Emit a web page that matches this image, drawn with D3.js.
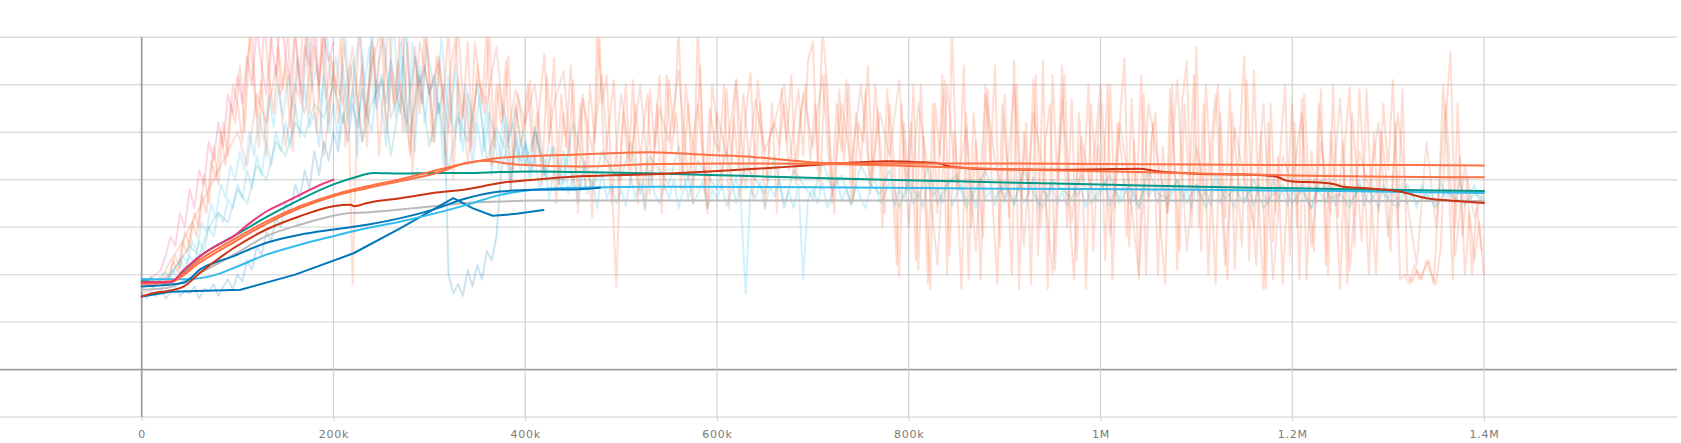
<!DOCTYPE html>
<html><head><meta charset="utf-8">
<script src="https://cdn.jsdelivr.net/npm/d3@7/dist/d3.min.js"></script>
<style>html,body{margin:0;padding:0;background:#fff;overflow:hidden}</style>
</head><body>
<svg id="chart" width="1681" height="443"></svg>
<script>
// ---------- axis / tick data ----------
const xTickValues = [0, 200000, 400000, 600000, 800000, 1000000, 1200000, 1400000];
const xTickLabels = ["0", "200k", "400k", "600k", "800k", "1M", "1.2M", "1.4M"];
const yGridValues = [-100, 0, 100, 200, 300, 400, 500, 600, 700];

// ---------- smoothed series (step in thousands, value) ----------
const magentaSteps = [0, 30, 44, 61, 78, 96, 113, 130, 148, 165, 183, 200];
const magentaVals  = [184, 184, 210, 239, 261, 281, 309, 333, 351, 368, 386, 400];

const tealSteps = [0, 30, 47, 61, 96, 130, 165, 200, 221, 242, 270, 304, 339, 374, 409, 457, 540, 592, 714, 819, 900, 1000, 1104, 1200, 1300, 1400];
const tealVals  = [186, 184, 214, 239, 281, 321, 358, 390, 404, 414, 413, 414, 414, 416, 417, 416, 413, 410, 403, 398, 394, 390, 385, 382, 379, 376];

const orangeASteps = [0, 30, 61, 96, 130, 165, 200, 235, 270, 304, 339, 356, 374, 409, 457, 530, 592, 637, 680, 714, 800, 900, 1000, 1100, 1200, 1300, 1400];
const orangeAVals  = [182, 186, 232, 274, 312, 344, 368, 386, 401, 418, 435, 441, 446, 450, 453, 458, 452, 448, 440, 435, 434, 434, 433, 432, 431, 431, 430];

const orangeBSteps = [0, 30, 61, 96, 130, 165, 200, 235, 270, 304, 339, 356, 391, 457, 540, 640, 714, 800, 900, 1000, 1100, 1200, 1300, 1400];
const orangeBVals  = [180, 184, 226, 268, 307, 340, 365, 382, 397, 412, 435, 440, 432, 428, 433, 434, 433, 429, 422, 418, 413, 409, 406, 405];

const redSteps = [0, 12, 26, 44, 61, 96, 130, 165, 200, 218, 222, 235, 270, 304, 339, 374, 409, 457, 540, 592, 673, 725, 777, 810, 832, 843, 888, 957, 1000, 1041, 1055, 1076, 1104, 1138, 1166, 1184, 1194, 1201, 1229, 1243, 1253, 1278, 1312, 1340, 1364, 1400];
const redVals  = [154, 161, 165, 175, 204, 256, 295, 323, 344, 347, 344, 351, 361, 372, 380, 393, 400, 407, 412, 417, 427, 434, 439, 437, 434, 428, 422, 421, 422, 423, 419, 415, 412, 411, 410, 406, 398, 396, 394, 391, 385, 382, 375, 361, 356, 351];

const greySteps = [0, 26, 61, 96, 130, 165, 200, 217, 235, 270, 304, 339, 374, 409, 457, 700, 1000, 1400];
const greyVals  = [168, 172, 204, 242, 281, 305, 324, 330, 331, 337, 344, 351, 354, 356, 356, 356, 356, 355];

const blueASteps = [0, 44, 61, 96, 130, 165, 200, 235, 270, 304, 339, 374, 409, 457, 478];
const blueAVals  = [175, 183, 211, 239, 267, 284, 295, 305, 319, 337, 361, 375, 379, 380, 383];

const cyanSteps = [0, 44, 78, 96, 130, 165, 200, 235, 270, 304, 339, 374, 409, 457, 540, 700, 900, 1100, 1250, 1400];
const cyanVals  = [191, 190, 200, 214, 242, 263, 281, 298, 312, 328, 347, 368, 379, 383, 385, 384, 381, 379, 376, 372];

const blueBSteps = [0, 30, 103, 160, 221, 270, 325, 345, 366, 391, 419];
const blueBVals  = [154, 164, 168, 200, 245, 298, 361, 340, 324, 328, 336];

// ---------- raw (unsmoothed) series, logged every rawStep thousand steps ----------
const rawStep5 = 5;
const rawStep10 = 10;

const orangeARawVals = [
185,178,192,181,188,195,
205,240,215,290,260,330,300,410,350,470,390,520,450,600,
560,480,650,720,530,610,450,690,760,580,640,510,700,620,780,540,680,600,740,520,
650,520,700,610,180,560,640,470,690,580,720,500,630,560,740,600,450,680,540,710,
620,480,660,560,730,400,610,530,690,470,640,560,720,430,600,520,650,380,560,470,
520,610,430,560,665,480,655,390,540,450,610,330,580,480,320,720,560,620,410,175,
480,600,390,560,450,340,590,470,620,380,610,500,720,420,560,350,720,470,330,600,
520,380,590,440,610,360,540,625,400,560,340,490,520,470,560,420,510,590,450,650,
690,420,720,600,380,560,460,610,350,540,430,590,370,600,480,330,560,420,195,520,
380,600,210,490,180,560,330,620,200,720,410,170,540,300,480,190,600,430,640,260,
580,320,650,170,500,370,610,240,650,170,620,400,640,300,570,230,470,170,560,420,
560,230,600,340,520,655,260,480,190,580,360,520,200,470,330,600,210,560,650,300,
680,250,600,420,180,540,320,590,210,480,660,230,630,350,170,520,270,450,180,380,
560,300,570,190,460,350,590,220,500,380,170,480,595,260,590,410,200,500,330,560,
420,610,300,590,200,185,210,190,230,200,180,260,520,670,300,450,200,330,230,310,
200];

// second orange run, logged half-way between the first one's points
const orangeBRawVals = [
180,190,176,186,193,184,
230,205,270,245,310,280,370,330,440,400,500,430,560,520,
640,500,700,590,470,740,620,540,680,590,720,460,650,560,760,610,500,700,570,660,
580,700,470,640,560,720,520,610,680,450,600,740,560,650,500,690,410,620,560,720,
480,660,590,430,640,700,520,580,460,690,610,540,720,470,600,530,660,420,580,500,
600,460,540,390,620,500,350,580,470,640,420,560,380,600,480,700,430,520,610,360,
540,420,610,350,500,580,400,560,330,620,460,540,380,600,500,440,640,370,550,480,
460,600,340,530,420,580,470,360,610,500,400,560,330,590,480,620,390,540,600,440,
560,380,620,470,330,590,440,600,360,520,480,640,400,550,300,590,420,220,560,380,
520,230,600,390,170,560,450,610,240,500,380,640,190,540,420,280,590,350,180,560,
440,200,600,360,520,180,620,300,480,560,210,450,620,330,190,540,400,600,250,470,
380,600,190,520,440,280,570,350,620,200,480,540,300,180,590,420,250,560,380,620,
300,560,200,480,600,350,190,540,420,260,610,380,220,500,170,560,330,460,600,240,
520,190,580,380,250,560,440,200,600,320,480,180,540,400,270,590,360,200,500,420,
250,520,190,200,180,220,190,210,230,180,350,600,420,190,560,280,400,200,350,250];

const redRawVals = [
160,170,190,230,260,300,340,380,420,460,
500,430,580,520,640,470,600,540,700,450,
620,560,680,480,640,720,530,600,460,690,
580,650,500,720,430,610,560,680,470,590,
520,600,410,560,630,380,570,460,620,350,
580,440,600,370,550,480,630,400,560,340,
540,450,610,380,570,460,520,600,410,580,
470,620,350,560,430,600,390,540,450,610,
300,560,420,220,600,380,510,250,580,440,
350,600,260,540,420,200,570,310,490,380,
600,280,520,390,200,560,440,330,610,250,
470,360,580,220,510,400,300,560,190,450,
390,540,260,480,330,570,210,460,380,520,
280,540,350,220,480,300,560,240,430,320,
380];

const cyanRawVals = [
190,186,195,182,198,205,192,215,232,210,
240,225,270,250,300,280,330,310,360,340,
390,360,420,380,450,410,480,430,500,460,
520,470,560,490,600,510,540,470,620,500,
560,480,640,520,590,450,660,540,500,610,
560,470,620,530,690,500,580,460,640,520,
600,480,560,430,620,500,540,460,580,430,
520,450,560,410,500,440,530,400,480,420,
470,400,450,380,440,360,420,390,460,370,
410,350,430,370,400,340,420,360,390,350,
380,345,410,360,395,335,420,370,350,390,
360,400,340,380,410,350,370,395,340,380,
360,390,345,375,405,350,160,380,360,395,
340,385,365,400,350,375,340,390,190,360,
380,350,395,340,370,405,355,380,345,390,
360,340,385,400,350,370,395,345,380,360,
390,350,375,340,400,365,380,350,395,345,
370,390,350,380,340,400,360,375,345,390,
360,380,345,395,350,370,405,340,380,360,
390,350,375,345,400,365,380,340,390,355,
370,395,345,380,360,400,350,375,340,390,
365,380,350,395,345,370,400,355,380,340,
390,360,375,345,400,350,380,365,340,395,
355,380,345,390,370,350,400,360,375,345,
385,350,395,360,340,380,370,350,395,345,
375,390,350,365,400,345,380,360,340,390,
360,380,345,395,350,370,340,390,360,375,
345,395,360,380,350,400,345,370,390,355,
360];

const blueARawVals = [
175,182,170,188,176,195,210,190,240,225,
270,250,310,290,350,320,390,360,430,400,
460,420,500,450,540,480,580,510,600,530,
620,550,660,570,700,590,640,560,720,600,
660,580,700,540,640,720,600,680,560,650,
700,600,740,580,660,520,690,610,560,680,
620,540,700,580,520,640,480,600,560,500,
580,460,540,500,420,560,480,520,440,500,
460,420,500,440,400,470,430,380,450,410,
420,380,440,400,390,410];

const tealRawVals = [
185,190,180,200,230,260,240,300,330,310,
380,350,430,400,480,450,520,490,560,530,
600,520,650,480,560,610,450,580,500,620,
470,560,420,530,480,600,440,510,460,550,
430,500,410,470,390,520,440,380,460,420,
400,480,370,450,420,390,470,360,440,410,
380,460,350,430,400,370,450,340,420,390,
360,440,380,410,350,430,390,370,420,340,
400,360,430,350,390,410,340,380,420,360,
390,350,420,370,340,400,380,360,410,350,
380,410,350,390,340,420,370,360,400,350,
390,340,410,360,380,350,400,340,370,390,
350,380,340,400,360,370,340,390,350,380,
360,340,390,350,370,340,380,360,350,370,
360];

const pinkRawVals = [
190,185,195,200,210,240,280,260,330,300,
380,340,420,390,480,440,520,470,580,540,
620,560,660,600,720,640,580,700,620,760,
660,600,720,580,680,640,760,600,700,650,
690];

const blueBRawVals = [
160,150,165,155,170,150,160,175,155,165,
160,175,150,170,165,180,155,175,190,170,
200,185,230,210,260,240,290,270,320,300,
350,330,390,360,420,380,460,410,480,440,
500,460,540,480,560,510,590,530,720,550,
620,560,650,590,540,730,580,660,600,640,
580,620,540,600,200,160,180,155,210,175,
220,190,250,230,280,420,460,380,500,440,
480,420,510,460,440];

// ---------- drawing ----------
const svg = d3.select("#chart");
const x = d3.scaleLinear().domain([0, 1400000]).range([141.7, 1484]);
const y = d3.scaleLinear().domain([-100, 700]).range([417, 37.3]);
const plotRight = 1677;

svg.append("defs").append("clipPath").attr("id", "plotClip")
  .append("rect").attr("x", 0).attr("y", y(700)).attr("width", plotRight).attr("height", y(-100) - y(700));

// horizontal grid
svg.append("g").selectAll("line").data(yGridValues).join("line")
  .attr("x1", 0).attr("x2", plotRight)
  .attr("y1", d => y(d)).attr("y2", d => y(d))
  .attr("stroke", d => d === 0 ? "#9e9e9e" : "#dcdcdc")
  .attr("stroke-width", d => d === 0 ? 1.8 : 1.4);

// vertical grid
svg.append("g").selectAll("line").data(xTickValues).join("line")
  .attr("x1", d => x(d)).attr("x2", d => x(d))
  .attr("y1", y(700)).attr("y2", y(-100))
  .attr("stroke", d => d === 0 ? "#a0a0a0" : "#d0d0d0")
  .attr("stroke-width", d => d === 0 ? 1.8 : 1.2);

// x axis labels + small ticks
const xAxis = d3.axisBottom(x).tickValues(xTickValues)
  .tickFormat((d, i) => xTickLabels[i]).tickSize(4).tickPadding(9);
const gx = svg.append("g").attr("transform", `translate(0,${y(-100)})`).call(xAxis);
gx.select(".domain").remove();
gx.selectAll(".tick line").attr("stroke", "#cfcfcf");
gx.selectAll(".tick text").attr("fill", "#7a7a7a")
  .style("font-family", "'DejaVu Sans', sans-serif").style("font-size", "11px")
  .style("letter-spacing", "0.8px");

const plot = svg.append("g").attr("clip-path", "url(#plotClip)");

const rawLine = d3.line().x(d => x(d[0] * 1000)).y(d => y(d[1]));
function rawPairs(vals, stepK, offsetK) { return vals.map((v, i) => [offsetK + i * stepK, v]); }

const rawSeries = [
  { vals: tealRawVals,    step: rawStep10, off: 0,   color: "#009988", op: 0.17 },
  { vals: cyanRawVals,    step: rawStep5,  off: 0,   color: "#33bbee", op: 0.22 },
  { vals: blueARawVals,   step: rawStep5,  off: 2.5, color: "#33bbee", op: 0.2 },
  { vals: blueBRawVals,   step: rawStep5,  off: 0,   color: "#0077bb", op: 0.2 },
  { vals: pinkRawVals,    step: rawStep5,  off: 0,   color: "#ee3377", op: 0.2 },
  { vals: redRawVals,     step: rawStep10, off: 0,   color: "#cc3311", op: 0.15 },
  { vals: orangeBRawVals, step: rawStep5,  off: 2.5, color: "#ff7043", op: 0.24 },
  { vals: orangeARawVals, step: rawStep5,  off: 0,   color: "#ff7043", op: 0.24 }
];
rawSeries.forEach(s => {
  plot.append("path").datum(rawPairs(s.vals, s.step, s.off))
    .attr("fill", "none").attr("stroke", s.color).attr("stroke-opacity", s.op)
    .attr("stroke-width", 2).attr("stroke-linejoin", "round").attr("d", rawLine);
});

const smoothLine = d3.line().x(d => x(d[0] * 1000)).y(d => y(d[1])).curve(d3.curveMonotoneX);
const sharpLine = d3.line().x(d => x(d[0] * 1000)).y(d => y(d[1]));
function pairs(steps, vals) { return steps.map((s, i) => [s, vals[i]]); }

const smoothSeries = [
  { s: greySteps,    v: greyVals,    color: "#bbbbbb", gen: smoothLine },
  { s: blueBSteps,   v: blueBVals,   color: "#0077bb", gen: sharpLine },
  { s: cyanSteps,    v: cyanVals,    color: "#33bbee", gen: smoothLine },
  { s: blueASteps,   v: blueAVals,   color: "#0077bb", gen: smoothLine },
  { s: tealSteps,    v: tealVals,    color: "#009988", gen: smoothLine },
  { s: redSteps,     v: redVals,     color: "#cc3311", gen: smoothLine },
  { s: orangeBSteps, v: orangeBVals, color: "#ff7043", gen: smoothLine },
  { s: orangeASteps, v: orangeAVals, color: "#ff7043", gen: smoothLine },
  { s: magentaSteps, v: magentaVals, color: "#ee3377", gen: smoothLine }
];
smoothSeries.forEach(s => {
  plot.append("path").datum(pairs(s.s, s.v))
    .attr("fill", "none").attr("stroke", s.color).attr("stroke-width", 2)
    .attr("stroke-linejoin", "round").attr("stroke-linecap", "round").attr("d", s.gen);
});
</script>
</body></html>
